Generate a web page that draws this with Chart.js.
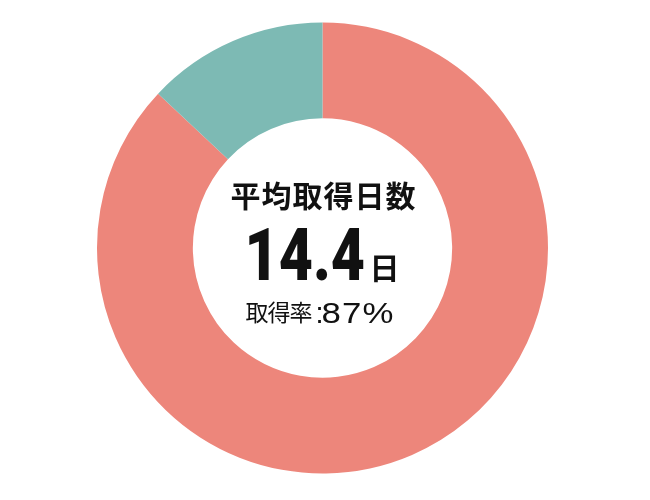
<!DOCTYPE html>
<html lang="ja">
<head>
    <meta charset="UTF-8">
    <title>平均取得日数</title>
    <script src="https://cdn.jsdelivr.net/npm/chart.js"></script>
    <style>
        html, body { margin: 0; padding: 0; background: #fff; }
        .wrap { width: 650px; height: 500px; position: relative; }
    </style>
</head>
<body>
    <div class="wrap"><canvas id="leaveChart"></canvas></div>

    <script>
        // Doughnut data: taken vs not taken
        const labels = ['取得', '未取得'];
        const values = [87, 13];
        const colors = ['#ED867B', '#7DBAB4'];

        // Center text
        const titleText = '平均取得日数';
        const daysText = '14.4';
        const unitText = '日';
        const rateLabel = '取得率';
        const rateValue = '87%';

        // Draws the labels in the hole of the doughnut
        const centerText = {
            id: 'centerText',
            afterDraw(chart) {
                const ctx = chart.ctx;
                const arc = chart.getDatasetMeta(0).data[0];
                const cx = arc.x;
                const cy = arc.y;
                ctx.save();
                ctx.fillStyle = '#111';

                ctx.font = 'bold 30px "Noto Sans CJK JP", sans-serif';
                ctx.textAlign = 'center';
                ctx.textBaseline = 'middle';
                ctx.letterSpacing = '1px';
                ctx.fillText(titleText, cx + 1, cy - 52);
                ctx.letterSpacing = '0px';

                // condensed heavy digits
                ctx.save();
                ctx.translate(cx - 78, cy + 32);
                ctx.scale(0.82, 1);
                ctx.font = '900 72px Roboto, sans-serif';
                ctx.textAlign = 'left';
                ctx.textBaseline = 'alphabetic';
                ctx.fillText(daysText, 0, 0);
                ctx.restore();

                ctx.font = 'bold 30px "Noto Sans CJK JP", sans-serif';
                ctx.textAlign = 'left';
                ctx.textBaseline = 'middle';
                ctx.fillText(unitText, cx + 47, cy + 20);

                // 取得率 :87%
                ctx.font = '23px "Noto Sans CJK JP", sans-serif';
                ctx.textBaseline = 'middle';
                ctx.letterSpacing = '-1px';
                ctx.fillText(rateLabel, cx - 77, cy + 64);
                ctx.letterSpacing = '0px';
                ctx.font = '29px "Liberation Sans", sans-serif';
                ctx.textBaseline = 'alphabetic';
                ctx.fillText(':', cx - 7, cy + 75);
                ctx.save();
                ctx.translate(cx - 1, cy + 75);
                ctx.scale(1.2, 1);
                ctx.letterSpacing = '1px';
                ctx.fillText(rateValue, 0, 0);
                ctx.restore();
                ctx.restore();
            }
        };

        const ctx = document.getElementById('leaveChart').getContext('2d');
        new Chart(ctx, {
            type: 'doughnut',
            data: {
                labels: labels,
                datasets: [{
                    data: values,
                    backgroundColor: colors,
                    borderWidth: 0,
                    hoverOffset: 0
                }]
            },
            options: {
                responsive: true,
                maintainAspectRatio: false,
                animation: false,
                events: [],
                cutout: '57.5%',
                layout: { padding: { top: 22, bottom: 26, left: 97, right: 102 } },
                plugins: {
                    legend: { display: false },
                    tooltip: { enabled: false }
                }
            },
            plugins: [centerText]
        });
    </script>
</body>
</html>
